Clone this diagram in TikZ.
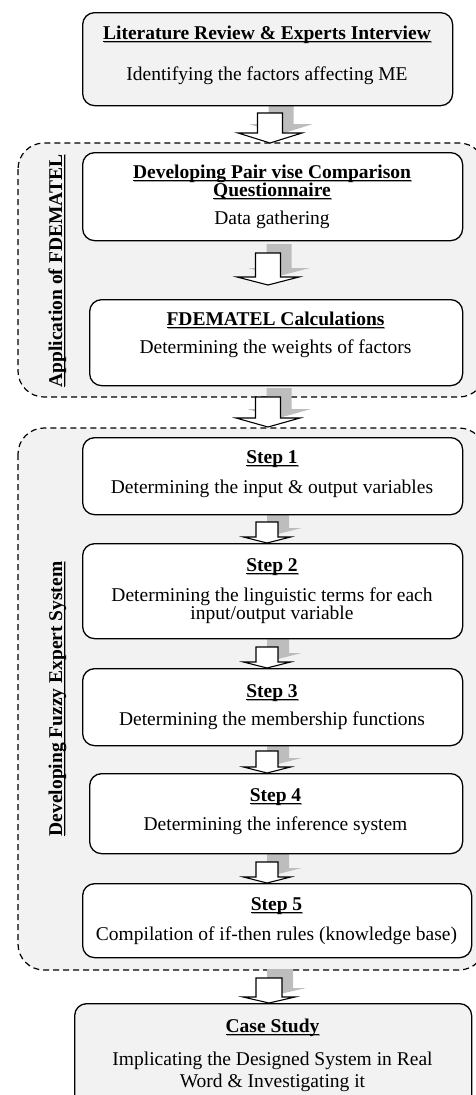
\documentclass[tikz,border=0pt]{standalone}
\usepackage{fontspec}
\setmainfont{Liberation Serif}
\definecolor{regfill}{HTML}{F2F2F2}
\definecolor{boxgray}{HTML}{F2F2F2}
\definecolor{shad}{HTML}{BDBDBD}
\definecolor{ulgray}{HTML}{A6A6A6}
\newcommand{\shul}[1]{\setbox0=\hbox{#1}\rlap{\color{ulgray}\kern1pt\raisebox{-3.8pt}{\rule{\wd0}{1.6pt}}}\rlap{\raisebox{-2.4pt}{\rule{\wd0}{0.9pt}}}\box0}
\tikzset{
  region/.style={draw=black, fill=regfill, dash pattern=on 6pt off 4pt, line width=1.2pt, rounded corners=26pt},
  whitebox/.style={draw=black, fill=white, line width=1.3pt, rounded corners=12pt, inner sep=0pt, anchor=north west},
  graybox/.style={whitebox, fill=boxgray},
  ttl/.style={inner sep=0pt, anchor=base, font=\fontsize{19.5}{19.5}\selectfont\bfseries},
  txt/.style={inner sep=0pt, anchor=base, font=\fontsize{19.5}{19.5}\selectfont},
  vlabel/.style={inner sep=0pt, anchor=base, rotate=90, font=\fontsize{19.5}{19.5}\selectfont\bfseries},
  pics/blockarrow/.style n args={4}{code={
    \begin{scope}[shift={(11,-9)}]
      \fill[shad] (-#1,0) -- (#1,0) -- (#1,#2) -- (#3,#2) -- (0,{#2+#4}) -- (-#3,#2) -- (-#1,#2) -- cycle;
    \end{scope}
    \filldraw[fill=white, draw=black, line width=1.1pt, line join=miter]
      (-#1,0) -- (#1,0) -- (#1,#2) -- (#3,#2) -- (0,{#2+#4}) -- (-#3,#2) -- (-#1,#2) -- cycle;
  }}
}
\begin{document}
\begin{tikzpicture}[x=1pt, y=-1pt]
\useasboundingbox (0,0) rectangle (475,1095);
% regions
\path[region] (18,143) rectangle (485,397);
\path[region] (18,428) rectangle (485,970);
% block arrows
\pic at (270,113) {blockarrow={12.5}{20}{32}{10}};
\pic at (268,253) {blockarrow={12.5}{24}{31}{8}};
\pic at (268,397) {blockarrow={12.5}{21}{32}{9}};
\pic at (267,522) {blockarrow={11}{15}{23.5}{6}};
\pic at (267,647) {blockarrow={11}{15}{23.5}{6}};
\pic at (267,751) {blockarrow={11}{16}{23.5}{6}};
\pic at (267,862) {blockarrow={11}{15}{23.5}{6}};
\pic at (269,978) {blockarrow={13}{19}{26}{6}};
% boxes
\node[graybox, minimum width=370pt, minimum height=93pt] (lit) at (82,12) {};
\node[whitebox, minimum width=380pt, minimum height=88pt] (pair) at (82,152) {};
\node[whitebox, minimum width=373pt, minimum height=86pt] (calc) at (89,299) {};
\node[whitebox, minimum width=380pt, minimum height=77pt] (st1) at (82,437) {};
\node[whitebox, minimum width=380pt, minimum height=95pt] (st2) at (82,543) {};
\node[whitebox, minimum width=380pt, minimum height=77pt] (st3) at (82,668) {};
\node[whitebox, minimum width=373pt, minimum height=80pt] (st4) at (89,773) {};
\node[whitebox, minimum width=389pt, minimum height=74pt] (st5) at (82,883) {};
\node[graybox, minimum width=397pt, minimum height=105pt] (case) at (74,1003) {};
% texts
\node[ttl] (litT) at (267,39) {\shul{Literature Review \& Experts Interview}};
\node[txt] (litS) at (267,80) {Identifying the factors affecting ME};
\node[ttl] (pairT1) at (272,178) {\shul{Developing Pair vise Comparison}};
\node[ttl] (pairT2) at (272,196) {\shul{Questionnaire}};
\node[txt] (pairS) at (272,224) {Data gathering};
\node[ttl] (calcT) at (275.5,325) {\shul{FDEMATEL Calculations}};
\node[txt] (calcS) at (275.5,353) {Determining the weights of factors};
\node[ttl] (st1T) at (272,463) {\shul{Step 1}};
\node[txt] (st1S) at (272,493) {Determining the input \& output variables};
\node[ttl] (st2T) at (272,571) {\shul{Step 2}};
\node[txt] (st2S1) at (272,601) {Determining the linguistic terms for each};
\node[txt] (st2S2) at (272,619) {input/output variable};
\node[ttl] (st3T) at (272,697) {\shul{Step 3}};
\node[txt] (st3S) at (272,725) {Determining the membership functions};
\node[ttl] (st4T) at (275.5,801) {\shul{Step 4}};
\node[txt] (st4S) at (275.5,830) {Determining the inference system};
\node[ttl] (st5T) at (276.5,910) {\shul{Step 5}};
\node[txt] (st5S) at (276.5,940) {Compilation of if-then rules (knowledge base)};
\node[ttl] (caseT) at (272.5,1032) {\shul{Case Study}};
\node[txt] (caseS1) at (272.5,1065) {Implicating the Designed System in Real};
\node[txt] (caseS2) at (272.5,1087) {Word \& Investigating it};
% vertical labels
\node[vlabel] (lab1) at (62,271) {\shul{Application of FDEMATEL}};
\node[vlabel] (lab2) at (62,699) {\shul{Developing Fuzzy Expert System}};
\end{tikzpicture}
\end{document}
